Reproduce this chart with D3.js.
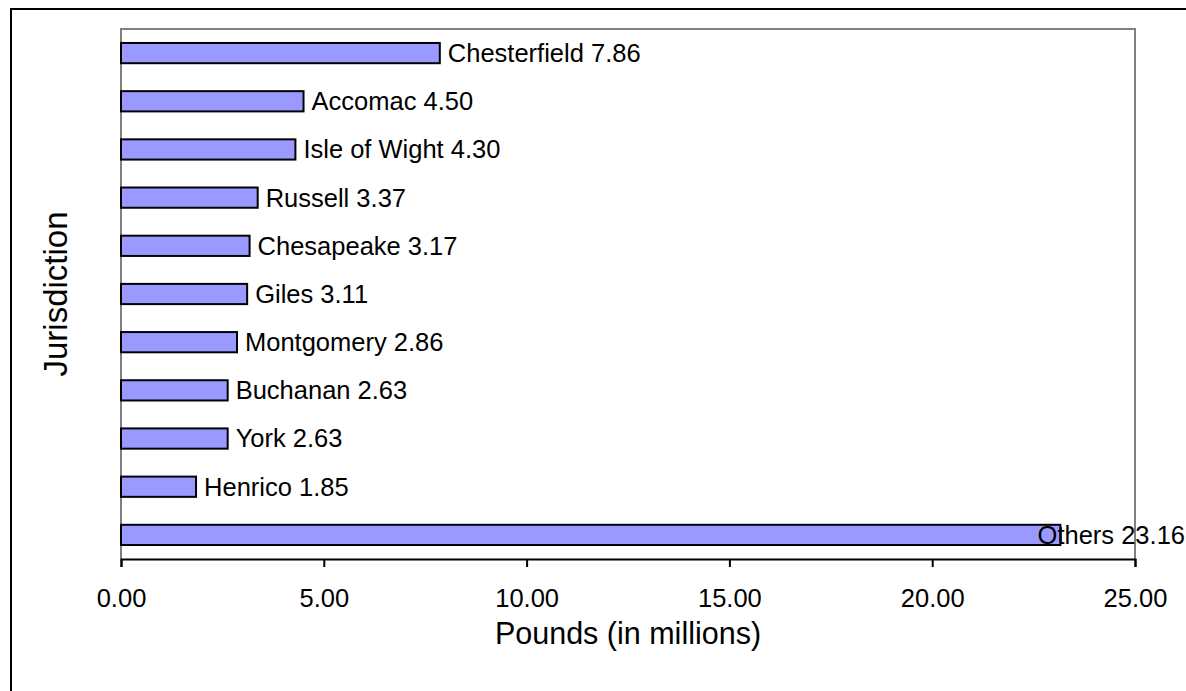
<!DOCTYPE html>
<html>
<head>
<meta charset="utf-8">
<script src="https://cdn.jsdelivr.net/npm/d3@7"></script>
<style>
  html, body { margin: 0; padding: 0; background: #fff; }
  svg { display: block; font-family: "Liberation Sans", Arial, sans-serif; }
</style>
</head>
<body>
<svg id="chart" width="1186" height="691"></svg>
<script>
const categories = ["Chesterfield", "Accomac", "Isle of Wight", "Russell", "Chesapeake", "Giles", "Montgomery", "Buchanan", "York", "Henrico", "Others"];
const values = [7.86, 4.50, 4.30, 3.37, 3.17, 3.11, 2.86, 2.63, 2.63, 1.85, 23.16];
const tickValues = [0, 5, 10, 15, 20, 25];
const xTitle = "Pounds (in millions)";
const yTitle = "Jurisdiction";

const W = 1186, H = 691;
const plot = { left: 121, top: 29, right: 1135, bottom: 559 };

const svg = d3.select("#chart");

// outer chart border
svg.append("rect")
  .attr("x", 11).attr("y", 9)
  .attr("width", W + 20).attr("height", H + 20)
  .attr("fill", "#fff").attr("stroke", "#000").attr("stroke-width", 2);

const x = d3.scaleLinear().domain([0, 25]).range([plot.left, plot.right]);
const y = d3.scaleBand().domain(categories).range([plot.top, plot.bottom])
  .paddingInner(0.58).paddingOuter(0.29);

// plot area frame (gray)
svg.append("path")
  .attr("d", `M${plot.left},${plot.bottom} V${plot.top} H${plot.right} V${plot.bottom}`)
  .attr("fill", "none").attr("stroke", "#808080").attr("stroke-width", 2);

// bars
const data = categories.map((c, i) => ({ c, v: values[i] }));
svg.append("g").selectAll("rect").data(data).join("rect")
  .attr("x", x(0))
  .attr("y", d => y(d.c))
  .attr("width", d => x(d.v) - x(0))
  .attr("height", y.bandwidth())
  .attr("fill", "#9999FF")
  .attr("stroke", "#000")
  .attr("stroke-width", 2);

// x axis
const xAxis = d3.axisBottom(x).tickValues(tickValues).tickFormat(d3.format(".2f"))
  .tickSize(8).tickPadding(22);
const gx = svg.append("g").attr("transform", `translate(0,${plot.bottom})`).call(xAxis);
gx.select(".domain").attr("stroke", "#000").attr("stroke-width", 2);
gx.selectAll(".tick line").attr("stroke", "#000").attr("stroke-width", 2);
gx.selectAll(".tick text").attr("fill", "#000").attr("font-size", 25.5)
  .attr("font-family", "Liberation Sans, Arial, sans-serif");

// data labels
const labels = svg.append("g").selectAll("text").data(data).join("text")
  .attr("y", d => y(d.c) + y.bandwidth() / 2)
  .attr("dy", "0.35em")
  .attr("font-size", 25.5)
  .attr("fill", "#000")
  .text(d => `${d.c} ${d.v.toFixed(2)}`);
labels.each(function(d) {
  const w = this.getComputedTextLength();
  const px = Math.min(x(d.v) + 8, W - 1 - w);
  d3.select(this).attr("x", px);
});

// axis titles
svg.append("text")
  .attr("x", (plot.left + plot.right) / 2)
  .attr("y", 644)
  .attr("text-anchor", "middle")
  .attr("font-size", 30.5)
  .text(xTitle);

svg.append("text")
  .attr("transform", `translate(67,${(plot.top + plot.bottom) / 2}) rotate(-90)`)
  .attr("text-anchor", "middle")
  .attr("font-size", 33)
  .text(yTitle);
</script>
</body>
</html>
